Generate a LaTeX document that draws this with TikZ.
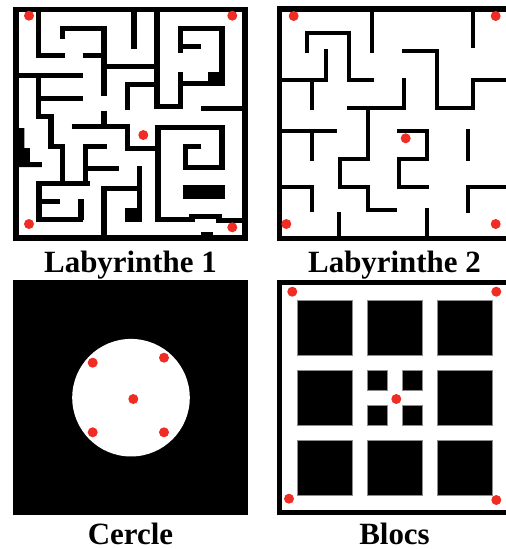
\documentclass[tikz,border=0pt]{standalone}
\usepackage{fontspec}
\setmainfont{Liberation Serif}
\definecolor{dotred}{RGB}{239,45,36}

\begin{document}
\begin{tikzpicture}[x=0.02cm, y=-0.02cm,
  wall/.style={draw=black, line width=2.85pt},
  thinwall/.style={draw=black, line width=2.3pt},
  frame/.style={draw=black, line width=3.2pt},
  block/.style={fill=black, draw=black!45, line width=0.4pt},
  spot/.style={fill=dotred},
  mazename/.style={font=\fontsize{17.6}{20}\selectfont\bfseries, anchor=base}]

  \path[use as bounding box] (0,0) rectangle (506,549);
  \clip (0,0) rectangle (506,549);

  % Labyrinthe 1
  \draw[frame] (16,9.5) rectangle (245.3,238.2);
  \draw[wall] (38.8,9.5) -- (38.8,55.8) -- (65,55.8);
  \draw[wall] (83,55.8) -- (104,55.8);
  \draw[wall] (62.5,39) -- (62.5,28) -- (104,28) -- (104,95.7);
  \draw[wall] (104,66) -- (157,66);
  \draw[wall] (16,75) -- (83,75);
  \draw[wall] (38.8,75) -- (38.8,116.5) -- (51,116.5) -- (51,146) -- (62.5,146) -- (62.5,184);
  \draw[wall] (38.8,98) -- (83,98);
  \draw[wall] (104,110.7) -- (104,126);
  \draw[wall] (71.7,126) -- (127.5,126) -- (127.5,148) -- (158,148);
  \draw[wall] (127.5,110) -- (127.5,84.5) -- (157,84.5);
  \draw[wall] (134,9.5) -- (134,49);
  \draw[wall] (180.5,72) -- (180.5,106.5) -- (157,106.5) -- (157,9.5);
  \draw[wall] (180.5,83) -- (222,83) -- (222,28) -- (180.5,28) -- (180.5,53);
  \draw[wall] (183,46.5) -- (201.3,46.5);
  \fill (208,72.3) rectangle (224.7,85.7);
  \draw[wall] (201.3,108) -- (245,108);
  \draw[wall] (201.3,146) -- (185.5,146) -- (185.5,167.5) -- (222,167.5) -- (222,127)
    -- (158,127) -- (158,219.5) -- (192,219.5) -- (192,216) -- (219,216) -- (219,220) -- (245,220);
  \fill (183,185.3) rectangle (224.7,198.7);
  \fill (201.3,232) rectangle (213,238);
  \fill (16,128) -- (24.5,128) -- (24.5,148) -- (30,148) -- (30,162) -- (42,162) -- (42,167) -- (16,167) -- cycle;
  \draw[wall] (107,146) -- (85.5,146) -- (85.5,185);
  \draw[wall] (85.5,168) -- (119,168);
  \draw[wall] (90,183.5) -- (39,183.5) -- (39,219.5) -- (83.3,219.5);
  \draw[wall] (81,219.5) -- (81,199);
  \draw[wall] (39,201.5) -- (60,201.5);
  \draw[wall] (104,186) -- (104,238);
  \draw[wall] (104,188) -- (139.5,188);
  \draw[wall] (139.5,166) -- (139.5,222);
  \fill (125,208) rectangle (142,222);
  \fill[spot] (29,15.7) circle (0.1cm) (232.3,15.7) circle (0.1cm) (143.3,135) circle (0.1cm)
    (29,224) circle (0.1cm) (232.3,227.3) circle (0.1cm);

  % Labyrinthe 2
  \draw[frame] (279.5,9.2) rectangle (512,238.5);
  \draw[thinwall] (371.7,9) -- (371.7,53);
  \draw[thinwall] (473.3,9) -- (473.3,48);
  \draw[thinwall] (306.7,53.3) -- (306.7,32.7) -- (349.3,32.7) -- (349.3,79.7) -- (373.7,79.7);
  \draw[thinwall] (282,79.7) -- (326,79.7) -- (326,49.3);
  \draw[thinwall] (311.7,79.7) -- (311.7,110);
  \draw[thinwall] (402,51.3) -- (436.7,51.3) -- (436.7,108) -- (473.3,108) -- (473.3,79.7) -- (509,79.7);
  \draw[thinwall] (404,77.7) -- (404,108) -- (347.3,108);
  \draw[thinwall] (367.7,108) -- (367.7,159) -- (340,159) -- (340,187) -- (367.7,187) -- (367.7,210.3) -- (397,210.3);
  \draw[thinwall] (279.5,131) -- (337.3,131);
  \draw[thinwall] (311.7,131) -- (311.7,161);
  \draw[thinwall] (279.5,187) -- (311.7,187) -- (311.7,212);
  \draw[thinwall] (339.3,212.3) -- (339.3,238);
  \draw[thinwall] (397,131) -- (426.7,131) -- (426.7,159) -- (399,159) -- (399,187) -- (428.7,187);
  \draw[thinwall] (427.3,208) -- (427.3,238);
  \draw[thinwall] (468.3,129) -- (468.3,161);
  \draw[thinwall] (509,187) -- (468.3,187) -- (468.3,212.5);
  \fill[spot] (293.7,16) circle (0.1cm) (495.7,16) circle (0.1cm) (405.7,138.3) circle (0.1cm)
    (286.3,224) circle (0.1cm) (495.7,224) circle (0.1cm);

  % Cercle
  \fill (12.7,280) rectangle (248.3,515);
  \fill[white] (131,397.7) circle (1.176cm);
  \fill[spot] (92.7,362.7) circle (0.1cm) (164,357.7) circle (0.1cm) (133.3,399) circle (0.1cm)
    (92.7,432.3) circle (0.1cm) (164,432.3) circle (0.1cm);

  % Blocs
  \draw[frame] (279.5,282.5) rectangle (512,512.5);
  \foreach \bx/\by in {297/300, 367/300, 437/300, 297/370, 437/370, 297/440, 367/440, 437/440}
    \draw[block] (\bx,\by) rectangle ++(55,55);
  \foreach \bx/\by in {367/370, 402/370, 367/405, 402/405}
    \draw[block] (\bx,\by) rectangle ++(20.5,20.5);
  \fill[spot] (292.3,291.7) circle (0.1cm) (496.3,291.7) circle (0.1cm) (396.3,399) circle (0.1cm)
    (289,498.7) circle (0.1cm) (496.3,500) circle (0.1cm);

  % names
  \node[mazename] (lab1) at (130.5,272) {Labyrinthe 1};
  \node[mazename] (lab2) at (394.5,272) {Labyrinthe 2};
  \node[mazename] (cercle) at (130.5,544) {Cercle};
  \node[mazename] (blocs) at (394.5,544) {Blocs};
\end{tikzpicture}
\end{document}
